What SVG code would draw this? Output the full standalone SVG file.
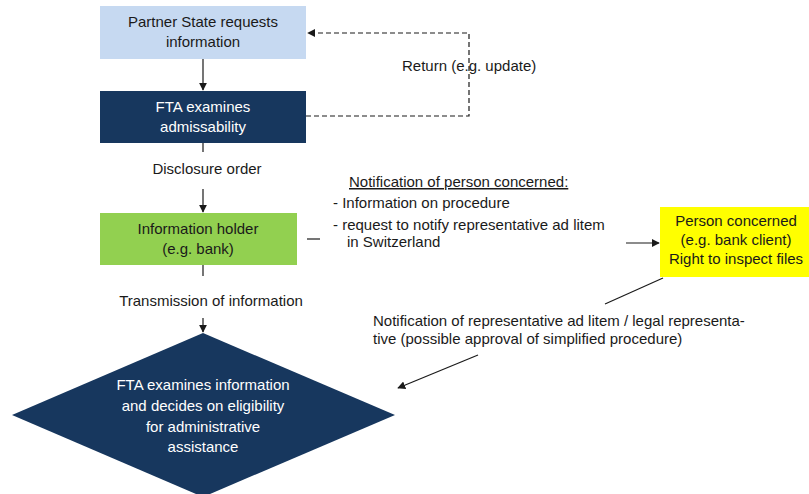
<svg xmlns="http://www.w3.org/2000/svg" width="809" height="494" viewBox="0 0 809 494">
<style>
text{font-family:"Liberation Sans",Arial,sans-serif;font-size:15px;fill:#1a1a1a}
.w{fill:#ffffff}
.c{text-anchor:middle}
.ln{stroke:#1a1a1a;stroke-width:1.2;fill:none}
.d{stroke-dasharray:5,3}
</style>
<defs>
<marker id="ah" viewBox="0 0 10 10" refX="9" refY="5" markerWidth="8" markerHeight="8" markerUnits="userSpaceOnUse" orient="auto"><path d="M0,0 L10,5 L0,10 z" fill="#1a1a1a"/></marker>
</defs>
<g id="connectors">
<line class="ln" x1="203" y1="59" x2="203" y2="90" marker-end="url(#ah)"/>
<polyline class="ln d" points="306,116 469,116 469,33 308,33" marker-end="url(#ah)"/>
<line class="ln" x1="203" y1="143" x2="203" y2="152"/>
<line class="ln" x1="203" y1="189" x2="203" y2="212" marker-end="url(#ah)"/>
<line class="ln" x1="307" y1="239" x2="320" y2="239"/>
<line class="ln" x1="626" y1="243" x2="659" y2="243" marker-end="url(#ah)"/>
<line class="ln" x1="663" y1="278" x2="605" y2="304"/>
<line class="ln" x1="478" y1="355" x2="398" y2="388" marker-end="url(#ah)"/>
<line class="ln" x1="203" y1="265" x2="203" y2="276"/>
<line class="ln" x1="203" y1="318" x2="203" y2="332" marker-end="url(#ah)"/>
<text x="402" y="71">Return (e.g. update)</text>
<text class="c" x="207" y="174">Disclosure order</text>
<text class="c" x="211" y="306">Transmission of information</text>
<text x="349" y="187" text-decoration="underline">Notification of person concerned:</text>
<text x="333" y="208">-  Information on procedure</text>
<text x="333" y="230">-  request to notify representative ad litem</text>
<text x="347" y="247">in Switzerland</text>
<text x="373" y="326">Notification of representative ad litem / legal representa-</text>
<text x="373" y="344">tive (possible approval of simplified procedure)</text>
</g>
<g id="partner">
<rect x="100" y="6" width="206" height="53" fill="#c6d9f1"/>
<text class="c" x="203" y="27">Partner State requests</text>
<text class="c" x="203" y="47">information</text>
</g>
<g id="fta">
<rect x="100" y="91" width="206" height="52" fill="#17375e"/>
<text class="c w" x="203" y="112">FTA examines</text>
<text class="c w" x="203" y="132">admissability</text>
</g>
<g id="holder">
<rect x="100" y="213" width="197" height="52" fill="#92d050"/>
<text class="c" x="198" y="234">Information holder</text>
<text class="c" x="198" y="254">(e.g. bank)</text>
</g>
<g id="person">
<rect x="660" y="207" width="149" height="70" fill="#ffff00"/>
<text class="c" x="736" y="226">Person concerned</text>
<text class="c" x="736" y="245">(e.g. bank client)</text>
<text class="c" x="736" y="264">Right to inspect files</text>
</g>
<g id="decision">
<polygon points="203,333 395,415 203,497 12,415" fill="#17375e"/>
<text class="c w" x="203" y="390">FTA examines information</text>
<text class="c w" x="203" y="411">and decides on eligibility</text>
<text class="c w" x="203" y="432">for administrative</text>
<text class="c w" x="203" y="452">assistance</text>
</g>
</svg>
